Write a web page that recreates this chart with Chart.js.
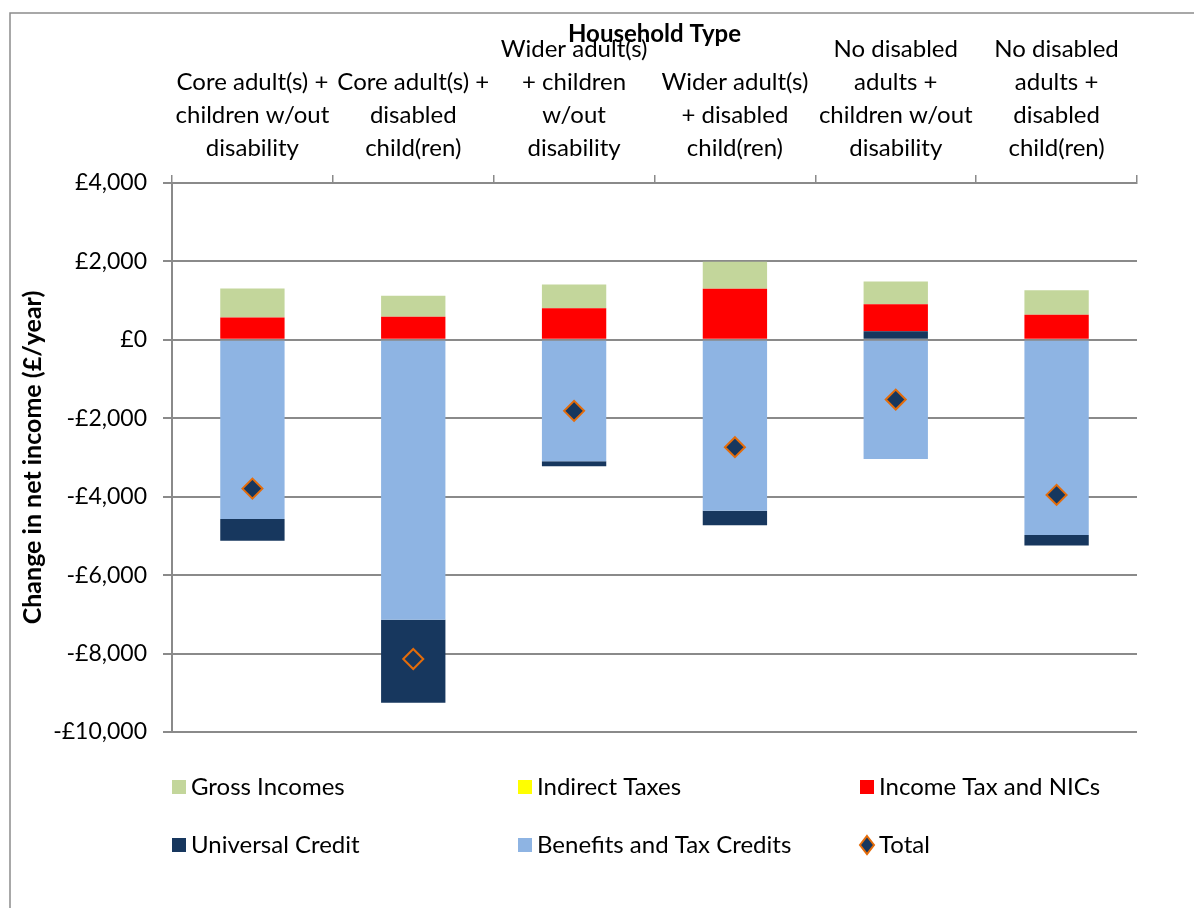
<!DOCTYPE html>
<html>
<head>
<meta charset="utf-8">
<script src="https://cdn.jsdelivr.net/npm/chart.js@4/dist/chart.umd.min.js"></script>
<style>
  html, body { margin: 0; padding: 0; background: #fff; }
  #wrap { width: 1194px; height: 908px; }
</style>
</head>
<body>
<div id="wrap"><canvas id="net_income_chart" width="1194" height="908"></canvas></div>
<script>
// household types (top axis)
const household_types = [
  ["Core adult(s) +", "children w/out", "disability"],
  ["Core adult(s) +", "disabled", "child(ren)"],
  ["Wider adult(s)", "+ children", "w/out", "disability"],
  ["Wider adult(s)", "+ disabled", "child(ren)"],
  ["No disabled", "adults +", "children w/out", "disability"],
  ["No disabled", "adults +", "disabled", "child(ren)"]
];

// change in net income, £/year
const gross_incomes = [740, 536, 602, 689, 577, 630];
const indirect_taxes = [0, 0, 0, 0, 0, 0];
const income_tax_nics = [570, 587, 809, 1301, 689, 638];
const universal_credit = [-560, -2118, -128, -372, 222, -273];
const benefits_tax_credits = [-4566, -7135, -3095, -4355, -3036, -4974];
const total_change = [-3793, -8138, -1811, -2737, -1523, -3954];

const y_ticks = [4000, 2000, 0, -2000, -4000, -6000, -8000, -10000];

const FONT = "Lato, 'Open Sans', sans-serif";
const GRID = "#8a8a8a";

function money(v) {
  return (v < 0 ? "-" : "") + "£" + Math.abs(v).toLocaleString("en-GB");
}

// grey frame round the chart, like the spreadsheet export
const frame_plugin = {
  id: "frame",
  beforeDraw(chart) {
    const ctx = chart.ctx;
    ctx.save();
    ctx.strokeStyle = "#8c8c8c";
    ctx.lineWidth = 1.5;
    ctx.beginPath();
    ctx.moveTo(10, chart.height);
    ctx.lineTo(10, 13);
    ctx.lineTo(chart.width, 13);
    ctx.stroke();
    ctx.restore();
  }
};

// three-column legend below the plot
const grid_legend = {
  id: "gridLegend",
  afterDraw(chart, args, opts) {
    const ctx = chart.ctx;
    const area = chart.chartArea;
    ctx.save();
    ctx.font = "24px " + FONT;
    ctx.textBaseline = "middle";
    ctx.fillStyle = "#000";
    opts.items.forEach((item, i) => {
      const ds = chart.data.datasets.find(d => d.label === item);
      const x = area.left + opts.cols[i % 3];
      const y = area.bottom + opts.rows[Math.floor(i / 3)];
      if (ds.type === "line") {
        ctx.beginPath();
        ctx.moveTo(x + 7, y - 9);
        ctx.lineTo(x + 14, y);
        ctx.lineTo(x + 7, y + 9);
        ctx.lineTo(x, y);
        ctx.closePath();
        ctx.fillStyle = ds.pointBackgroundColor;
        ctx.fill();
        ctx.lineWidth = 2;
        ctx.strokeStyle = ds.pointBorderColor;
        ctx.stroke();
      } else {
        ctx.fillStyle = ds.backgroundColor;
        ctx.fillRect(x, y - 7, 14, 14);
      }
      ctx.fillStyle = "#000";
      ctx.fillText(item, x + 19, y);
    });
    ctx.restore();
  }
};

(() => {
  const ctx = document.getElementById("net_income_chart").getContext("2d");

  new Chart(ctx, {
    type: "bar",
    data: {
      labels: household_types,
      datasets: [
        { label: "Benefits and Tax Credits", data: benefits_tax_credits, backgroundColor: "#8eb4e3" },
        { label: "Universal Credit", data: universal_credit, backgroundColor: "#17375e" },
        { label: "Income Tax and NICs", data: income_tax_nics, backgroundColor: "#ff0000" },
        { label: "Indirect Taxes", data: indirect_taxes, backgroundColor: "#ffff00" },
        { label: "Gross Incomes", data: gross_incomes, backgroundColor: "#c3d69b" },
        {
          label: "Total",
          type: "line",
          data: total_change,
          stack: "total",
          order: -1,
          showLine: false,
          pointStyle: "rectRot",
          pointRadius: 10,
          pointBorderWidth: 2,
          pointBackgroundColor: "#17375e",
          pointBorderColor: "#e46c0a"
        }
      ]
    },
    options: {
      responsive: false,
      animation: false,
      categoryPercentage: 1.0,
      barPercentage: 0.4,
      layout: { padding: { top: 10, left: 10, right: 57, bottom: 176 } },
      plugins: {
        legend: { display: false },
        tooltip: { enabled: false },
        gridLegend: {
          items: ["Gross Incomes", "Indirect Taxes", "Income Tax and NICs",
                  "Universal Credit", "Benefits and Tax Credits", "Total"],
          cols: [0, 346, 688],
          rows: [55, 113]
        }
      },
      scales: {
        x: {
          position: "top",
          stacked: true,
          afterFit: s => { s.height = 173; },
          grid: { drawOnChartArea: false, tickLength: 8, color: GRID, lineWidth: 1.5 },
          border: { color: GRID, width: 2 },
          ticks: {
            color: "#000",
            padding: 10,
            maxRotation: 0,
            autoSkip: false,
            font: { family: FONT, size: 24, lineHeight: 1.375 }
          },
          title: {
            display: true,
            text: "Household Type",
            color: "#000",
            padding: { top: 10, bottom: 0 },
            font: { family: FONT, size: 24, weight: "bold" }
          }
        },
        y: {
          stacked: true,
          min: -10000,
          max: 4000,
          afterFit: s => { s.width = 162; },
          afterBuildTicks: s => { s.ticks = y_ticks.map(v => ({ value: v })); },
          grid: { color: GRID, lineWidth: 2, tickLength: 9 },
          border: { color: GRID, width: 2 },
          ticks: {
            color: "#000",
            padding: 16,
            callback: v => money(v),
            font: { family: FONT, size: 23 }
          },
          title: {
            display: true,
            text: "Change in net income (£/year)",
            color: "#000",
            padding: { top: 8, bottom: 0 },
            font: { family: FONT, size: 25, weight: "bold" }
          }
        }
      }
    },
    plugins: [frame_plugin, grid_legend]
  });
})();
</script>
</body>
</html>
